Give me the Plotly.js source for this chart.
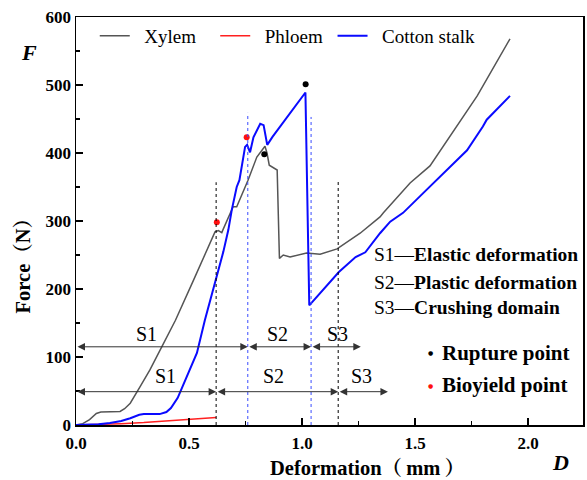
<!DOCTYPE html>
<html><head><meta charset="utf-8">
<script src="https://cdn.plot.ly/plotly-3.0.1.min.js"></script>
<style>body{margin:0;background:#fff;}</style>
</head><body>
<div id="chart" style="width:587px;height:480px;"></div>
<script>
// ---- data ----
const xylemX = [0, 0.03, 0.06, 0.09, 0.11, 0.15, 0.195, 0.215, 0.24, 0.283, 0.327, 0.372, 0.416, 0.44, 0.52, 0.60, 0.615, 0.63, 0.645, 0.65, 0.695, 0.711, 0.761, 0.80, 0.836, 0.845, 0.855, 0.89, 0.90, 0.917, 0.947, 1.02, 1.08, 1.155, 1.257, 1.345, 1.36, 1.478, 1.566, 1.775, 1.92];
const xylemY = [0, 2, 8, 17, 19, 19, 20, 24, 32, 56, 81, 110, 140, 154, 213, 272, 284, 286, 283, 287, 321, 321, 360, 394, 410, 400, 382, 375, 245, 250, 247, 253, 251, 259, 282, 306, 312, 356, 381, 484, 568];

const phloemX = [0, 0.1, 0.2, 0.3, 0.4, 0.5, 0.62];
const phloemY = [0, 0.5, 2, 3.5, 5.5, 8, 11];

const cottonX = [0, 0.05, 0.1, 0.15, 0.2, 0.24, 0.28, 0.30, 0.37, 0.40, 0.42, 0.45, 0.47, 0.50, 0.535, 0.57, 0.608, 0.622, 0.634, 0.652, 0.674, 0.689, 0.711, 0.723, 0.748, 0.757, 0.77, 0.785, 0.815, 0.83, 0.846, 0.87, 1.015, 1.032, 1.163, 1.237, 1.28, 1.345, 1.39, 1.447, 1.536, 1.73, 1.80, 1.817, 1.92];
const cottonY = [0, 0.5, 1, 3, 6, 10, 15, 16, 16, 19, 25, 40, 56, 80, 106, 154, 201, 221, 233, 255, 287, 316, 350, 360, 409, 412, 401, 423, 443, 441, 412, 424, 489, 176, 225, 247, 254, 282, 299, 312, 341, 404, 439, 449, 484];

const ruptureX = [1.016, 0.833];
const ruptureY = [501, 398];
const bioyieldX = [0.755, 0.623];
const bioyieldY = [423, 298];

const blackDotLineX = [0.62, 1.16];
const blackDotLineTop = [357, 359];
const blueDotLineX = [0.76, 1.04];
const blueDotLineTop = [459, 453];

const stageLabels = ['S1', 'S2', 'S3'];
const upperBounds = [0, 0.76, 1.04, 1.26];
const lowerBounds = [0, 0.62, 1.16, 1.38];
const upperRowY = 115;
const lowerRowY = 49;

const stageNotes = ['S1—<b>Elastic deformation</b>', 'S2—<b>Plastic deformation</b>', 'S3—<b>Crushing domain</b>'];
const pointNotes = ['Rupture point', 'Bioyield point'];

// ---- drawing ----
const SERIF = "'Liberation Serif', 'Times New Roman', 'Noto Serif CJK SC', 'Noto Sans CJK SC', serif";
const LEAD = '\u00a0\u00a0';

const traces = [
  {x: xylemX, y: xylemY, name: LEAD + 'Xylem' + '\u00a0\u00a0\u00a0', mode: 'lines', line: {color: '#555555', width: 1.5}},
  {x: phloemX, y: phloemY, name: LEAD + 'Phloem' + '\u00a0', mode: 'lines', line: {color: '#ff2020', width: 1.5}},
  {x: cottonX, y: cottonY, name: LEAD + 'Cotton stalk', mode: 'lines', line: {color: '#0a0aff', width: 2}},
  {x: ruptureX, y: ruptureY, mode: 'markers', showlegend: false, marker: {color: 'black', size: 6}},
  {x: bioyieldX, y: bioyieldY, mode: 'markers', showlegend: false, marker: {color: '#ff1010', size: 6}}
];

const shapes = [];
blackDotLineX.forEach((x, i) => shapes.push({type: 'line', xref: 'x', yref: 'y', x0: x, x1: x, y0: 0, y1: blackDotLineTop[i], line: {color: 'black', width: 1, dash: 'dot'}}));
blueDotLineX.forEach((x, i) => shapes.push({type: 'line', xref: 'x', yref: 'y', x0: x, x1: x, y0: 0, y1: blueDotLineTop[i], line: {color: '#3a4cff', width: 1, dash: 'dot'}}));

const annotations = [];
function arrowRow(bounds, yv) {
  for (let i = 0; i < bounds.length - 1; i++) {
    annotations.push({xref: 'x', yref: 'y', axref: 'x', ayref: 'y', x: bounds[i + 1], y: yv, ax: bounds[i], ay: yv,
      text: '', showarrow: true, arrowside: 'end+start', arrowhead: 2, startarrowhead: 2,
      arrowsize: 1.5, startarrowsize: 1.5, arrowwidth: 1, arrowcolor: '#333', standoff: 0, startstandoff: 0});
  }
}
arrowRow(upperBounds, upperRowY);
arrowRow(lowerBounds, lowerRowY);

const upperLabelX = [0.314, 0.89, 1.155];
const lowerLabelX = [0.394, 0.873, 1.262];
stageLabels.forEach((t, i) => {
  annotations.push({xref: 'x', yref: 'y', x: upperLabelX[i], y: upperRowY + 19, text: t, showarrow: false, font: {family: SERIF, size: 20, color: 'black'}});
  annotations.push({xref: 'x', yref: 'y', x: lowerLabelX[i], y: lowerRowY + 23, text: t, showarrow: false, font: {family: SERIF, size: 20, color: 'black'}});
});

const noteY = [0.419, 0.350, 0.287];
stageNotes.forEach((t, i) => annotations.push({xref: 'paper', yref: 'paper', x: 0.584, y: noteY[i], xanchor: 'left', yanchor: 'middle', text: t, showarrow: false, font: {family: SERIF, size: 19.5, color: 'black'}}));

const pointColors = ['black', '#ff1010'];
const pointNoteY = [0.177, 0.098];
pointNotes.forEach((t, i) => {
  annotations.push({xref: 'paper', yref: 'paper', x: 0.7, y: pointNoteY[i], xanchor: 'center', yanchor: 'middle', text: '●', showarrow: false, font: {family: 'DejaVu Sans', size: 6, color: pointColors[i]}});
  annotations.push({xref: 'paper', yref: 'paper', x: 0.717, y: pointNoteY[i], xanchor: 'left', yanchor: 'middle', text: '<b>' + t + '</b>', showarrow: false, font: {family: SERIF, size: 21, color: 'black'}});
});

// axis titles and symbols
annotations.push({xref: 'paper', yref: 'paper', x: -0.104, y: 0.404, xanchor: 'center', yanchor: 'middle', textangle: -90, text: '<b>Force（N）</b>', showarrow: false, font: {family: SERIF, size: 20.5, color: 'black'}});
annotations.push({xref: 'paper', yref: 'paper', x: 0.574, y: -0.105, xanchor: 'center', yanchor: 'middle', text: '<b>Deformation（\u2009mm\u2009）</b>', showarrow: false, font: {family: SERIF, size: 20.5, color: 'black'}});
annotations.push({xref: 'paper', yref: 'paper', x: -0.093, y: 0.913, xanchor: 'center', yanchor: 'middle', text: '<b><i>F</i></b>', showarrow: false, font: {family: SERIF, size: 22, color: 'black'}});
annotations.push({xref: 'paper', yref: 'paper', x: 0.956, y: -0.093, xanchor: 'center', yanchor: 'middle', text: '<b><i>D</i></b>', showarrow: false, font: {family: SERIF, size: 22, color: 'black'}});

const tickFont = {family: SERIF, size: 17, color: 'black', weight: 'bold'};

const layout = {
  width: 587, height: 480,
  margin: {l: 76, r: 4, t: 17, b: 55},
  paper_bgcolor: 'white', plot_bgcolor: 'white',
  showlegend: true,
  legend: {orientation: 'h', x: 0.037, y: 1.0, xanchor: 'left', yanchor: 'top', bgcolor: 'rgba(0,0,0,0)', font: {family: SERIF, size: 19, color: 'black'}, itemwidth: 30},
  xaxis: {range: [0, 2.243], tick0: 0, dtick: 0.5, tickformat: '.1f', ticks: 'inside', ticklen: 7, tickwidth: 1.5, tickcolor: 'black', ticklabelstandoff: 2,
    showline: true, linecolor: 'black', linewidth: 1.5, mirror: true, showgrid: false, zeroline: false, tickfont: tickFont,
    minor: {dtick: 0.25, ticks: 'inside', ticklen: 4, tickwidth: 1.5, tickcolor: 'black', showgrid: false}},
  yaxis: {range: [0, 600], tick0: 0, dtick: 100, ticks: 'inside', ticklen: 7, tickwidth: 1.5, tickcolor: 'black',
    showline: true, linecolor: 'black', linewidth: 1.5, mirror: true, showgrid: false, zeroline: false, tickfont: tickFont,
    minor: {dtick: 50, ticks: 'inside', ticklen: 4, tickwidth: 1.5, tickcolor: 'black', showgrid: false}},
  shapes: shapes,
  annotations: annotations
};

Plotly.newPlot('chart', traces, layout, {displayModeBar: false, staticPlot: true});
</script>
</body></html>
